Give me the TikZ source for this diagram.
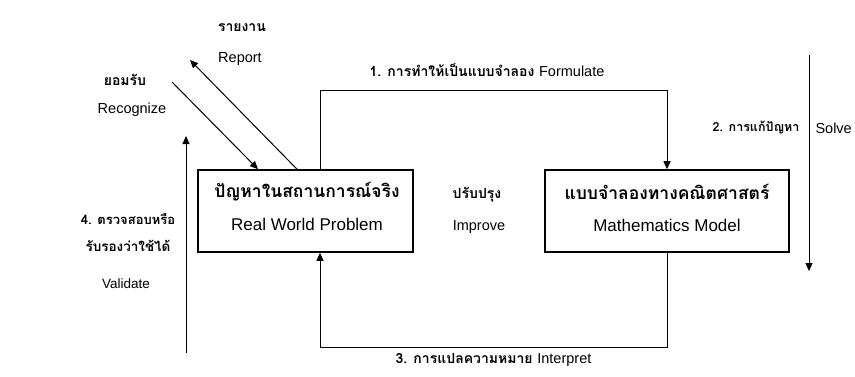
\documentclass[tikz,border=0pt]{standalone}
\usepackage{fontspec}
\setmainfont{Liberation Sans}
\newfontfamily\thai[Script=Thai]{Loma}
\usetikzlibrary{arrows.meta}
\begin{document}
\begin{tikzpicture}[x=1pt,y=-1pt,
  box/.style={draw,line width=1.6pt,inner sep=0pt,align=center},
  arr/.style={line width=1pt,-{Triangle[width=7pt,length=8pt]}},
  th/.style={font=\thai\bfseries\fontsize{17.5}{19}\selectfont},
  ths/.style={font=\thai\bfseries\fontsize{14}{16}\selectfont},
  lab/.style={font=\fontsize{14.5}{16}\selectfont},
  blab/.style={font=\fontsize{17}{19}\selectfont}]
\useasboundingbox (0,0) rectangle (855,376);
% boxes
\node[box,minimum width=215pt,minimum height=82pt] (L) at (305.5,211) {};
\node[box,minimum width=244pt,minimum height=82pt] (R) at (667,211) {};
\node[th] (Lt) at (307,192) {ปัญหาในสถานการณ์จริง};
\node[blab] (Le) at (307,224) {Real World Problem};
\node[th] (Rt) at (667,192) {แบบจำลองทางคณิตศาสตร์};
\node[blab] (Re) at (667,225) {Mathematics Model};
% formulate
\coordinate (f1) at (320,90);
\draw[arr] (L.north -| f1) -- (f1) -| (R.north);
\node[ths,anchor=west] (ft) at (366,70) {1. การทำให้เป็นแบบจำลอง \normalfont\fontsize{14.5}{16}\selectfont Formulate};
% interpret
\coordinate (i1) at (320,347);
\draw[arr] (R.south) |- (i1) -- (L.south -| i1);
\node[ths,anchor=west] (it) at (392,360) {3. การแปลความหมาย \normalfont\fontsize{14.5}{16}\selectfont Interpret};
% solve
\coordinate (s1) at (809,55);
\coordinate (s2) at (809,271);
\draw[arr] (s1) -- (s2);
\node[font=\thai\bfseries\fontsize{12.5}{14}\selectfont,anchor=east] (st) at (803,128) {2. การแก้ปัญหา};
\node[lab,anchor=west] (se) at (812,128) {Solve};
% validate
\coordinate (v1) at (186,353);
\coordinate (v2) at (186,136);
\draw[arr] (v1) -- (v2);
\node[font=\thai\bfseries\fontsize{13}{15}\selectfont] (vt1) at (128,219) {4. ตรวจสอบหรือ};
\node[font=\thai\bfseries\fontsize{13.5}{15}\selectfont] (vt2) at (128,246) {รับรองว่าใช้ได้};
\node[font=\fontsize{13.5}{15}\selectfont] (ve) at (126,284) {Validate};
% report / recognize
\coordinate (r1) at (297,0);
\coordinate (r2) at (190,60);
\draw[arr] (L.north -| r1) -- (r2);
\coordinate (g1) at (172,82);
\coordinate (g2) at (258,0);
\draw[arr] (g1) -- (L.north -| g2);
\node[ths] (rt) at (242,28) {รายงาน};
\node[lab] (re) at (240,59) {Report};
\node[ths] (gt) at (125,80) {ยอมรับ};
\node[lab] (ge) at (132,110) {Recognize};
% improve
\node[ths] (pt) at (477,195) {ปรับปรุง};
\node[lab] (pe) at (479,227) {Improve};
\end{tikzpicture}
\end{document}
